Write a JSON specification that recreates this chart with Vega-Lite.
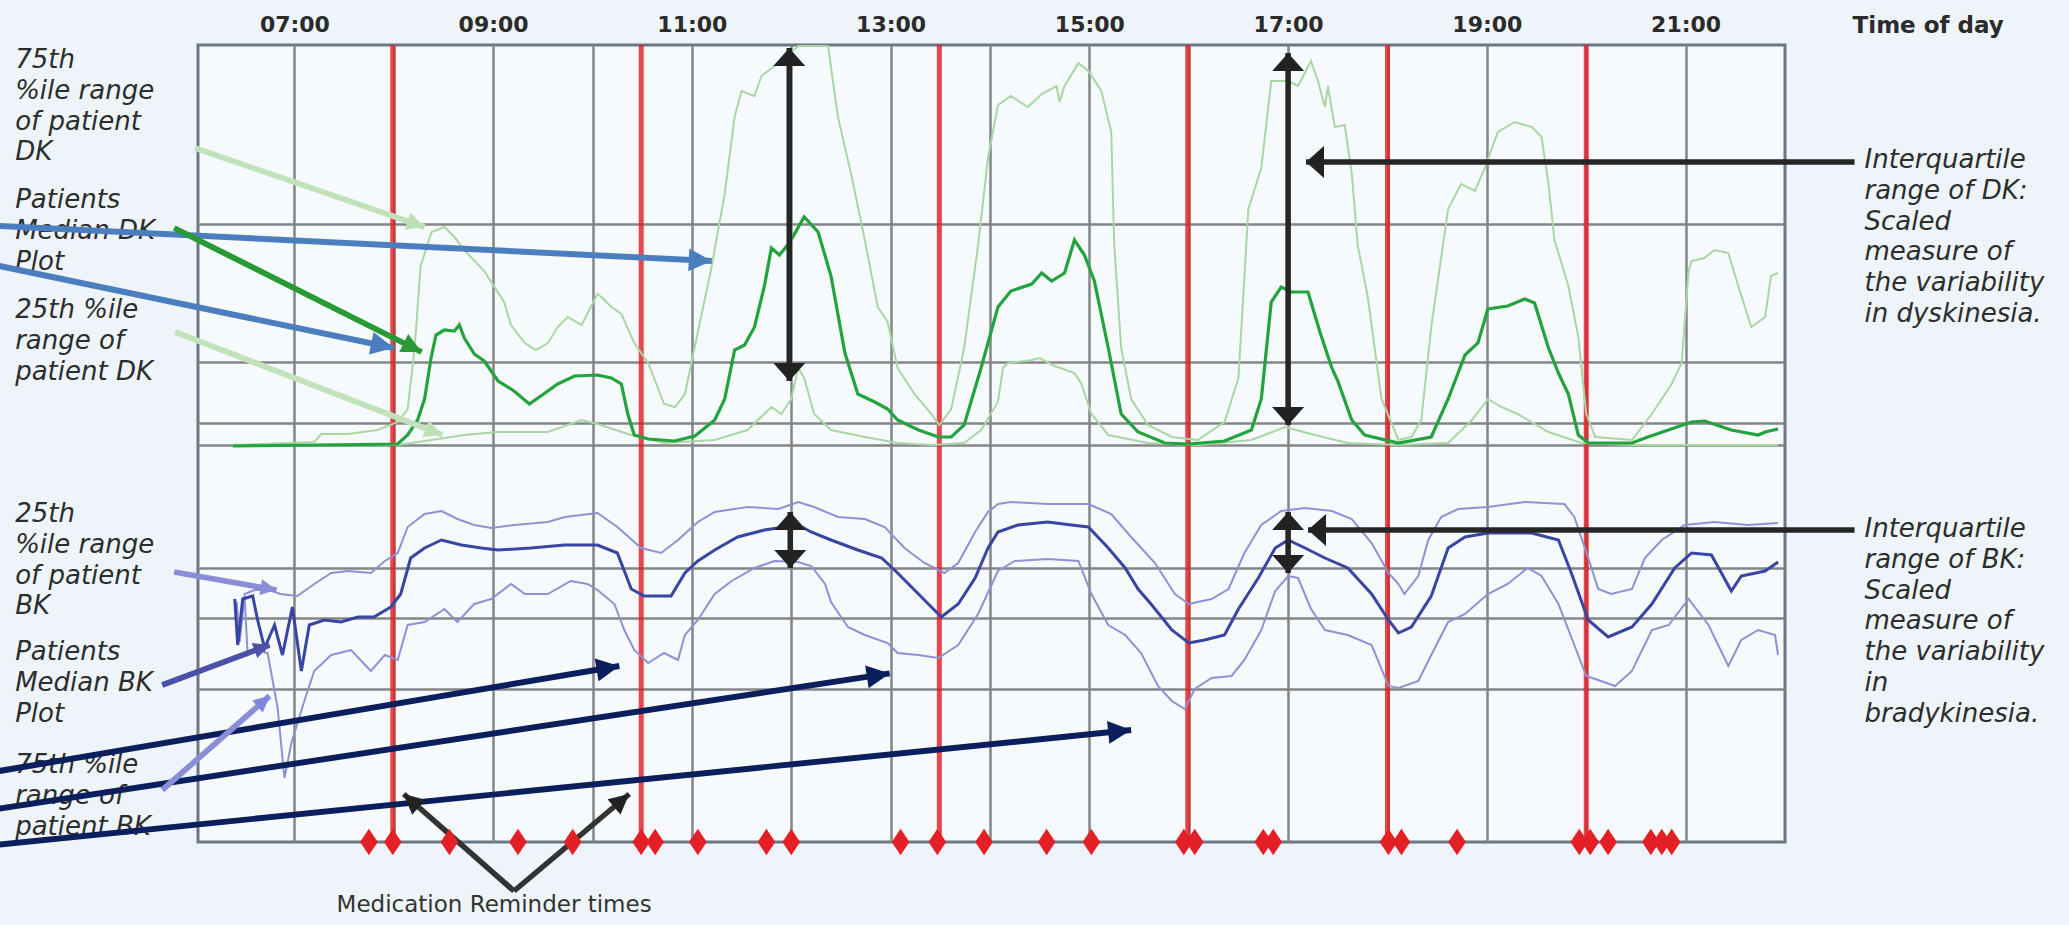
{
"$schema":"https://vega.github.io/schema/vega-lite/v6.json",
"width":1587,"height":797,
"autosize":{"type":"none"},
"padding":{"left":198,"top":45,"right":284,"bottom":83},
"background":"#eef4fa",
"config":{"view":{"fill":"#f7fafd","stroke":"#6b7784","strokeWidth":3}},
"datasets":{
"med":[{"t":7.99},{"t":10.49},{"t":13.49},{"t":15.99},{"t":18.0},{"t":20.0}],
"rem":[{"t":7.75},{"t":7.99},{"t":8.56},{"t":9.25},{"t":9.8},{"t":10.49},{"t":10.63},{"t":11.06},{"t":11.75},{"t":12.0},{"t":13.1},{"t":13.47},{"t":13.94},{"t":14.57},{"t":15.02},{"t":15.95},{"t":16.06},{"t":16.75},{"t":16.85},{"t":18.01},{"t":18.14},{"t":18.7},{"t":19.93},{"t":20.04},{"t":20.22},{"t":20.65},{"t":20.76},{"t":20.86}],
"dkmed":[{"t":6.38,"v":396},{"t":8.04,"v":398},{"t":8.14,"v":407},{"t":8.24,"v":422},{"t":8.31,"v":443},{"t":8.375,"v":484},{"t":8.425,"v":507},{"t":8.51,"v":512},{"t":8.61,"v":511},{"t":8.66,"v":517},{"t":8.71,"v":504},{"t":8.81,"v":488},{"t":8.91,"v":481},{"t":9.05,"v":461},{"t":9.21,"v":451},{"t":9.365,"v":438},{"t":9.48,"v":446},{"t":9.65,"v":458},{"t":9.82,"v":466},{"t":10.05,"v":467},{"t":10.19,"v":464},{"t":10.29,"v":458},{"t":10.355,"v":428},{"t":10.42,"v":407},{"t":10.56,"v":403},{"t":10.825,"v":401},{"t":11.03,"v":406},{"t":11.23,"v":422},{"t":11.33,"v":443},{"t":11.43,"v":492},{"t":11.53,"v":497},{"t":11.63,"v":515},{"t":11.73,"v":556},{"t":11.8,"v":594},{"t":11.88,"v":587},{"t":11.98,"v":599},{"t":12.13,"v":625},{"t":12.27,"v":610},{"t":12.4,"v":566},{"t":12.54,"v":489},{"t":12.67,"v":448},{"t":12.84,"v":440},{"t":12.97,"v":433},{"t":13.07,"v":422},{"t":13.28,"v":412},{"t":13.48,"v":405},{"t":13.61,"v":405},{"t":13.74,"v":417},{"t":13.91,"v":474},{"t":14.08,"v":535},{"t":14.21,"v":551},{"t":14.42,"v":558},{"t":14.52,"v":569},{"t":14.62,"v":561},{"t":14.75,"v":569},{"t":14.85,"v":602},{"t":14.95,"v":587},{"t":15.05,"v":561},{"t":15.19,"v":494},{"t":15.32,"v":428},{"t":15.49,"v":410},{"t":15.76,"v":399},{"t":16.0,"v":398},{"t":16.36,"v":401},{"t":16.63,"v":412},{"t":16.73,"v":443},{"t":16.83,"v":540},{"t":16.93,"v":555},{"t":17.03,"v":550},{"t":17.2,"v":550},{"t":17.32,"v":510},{"t":17.44,"v":474},{"t":17.5,"v":461},{"t":17.64,"v":422},{"t":17.77,"v":407},{"t":18.11,"v":399},{"t":18.44,"v":405},{"t":18.61,"v":443},{"t":18.78,"v":487},{"t":18.91,"v":499},{"t":19.01,"v":533},{"t":19.21,"v":536},{"t":19.38,"v":543},{"t":19.48,"v":539},{"t":19.62,"v":494},{"t":19.72,"v":469},{"t":19.82,"v":448},{"t":19.92,"v":407},{"t":20.02,"v":399},{"t":20.46,"v":399},{"t":20.62,"v":405},{"t":21.06,"v":420},{"t":21.19,"v":421},{"t":21.46,"v":412},{"t":21.73,"v":407},{"t":21.8,"v":410},{"t":21.93,"v":413}],
"dkq":[
{"s":"dk75","t":6.38,"v":397},{"s":"dk75","t":7.2,"v":400},{"s":"dk75","t":7.27,"v":408},{"s":"dk75","t":7.54,"v":408},{"s":"dk75","t":7.84,"v":412},{"s":"dk75","t":8.04,"v":420},{"s":"dk75","t":8.14,"v":433},{"s":"dk75","t":8.21,"v":494},{"s":"dk75","t":8.27,"v":576},{"s":"dk75","t":8.38,"v":610},{"s":"dk75","t":8.51,"v":615},{"s":"dk75","t":8.61,"v":605},{"s":"dk75","t":8.71,"v":592},{"s":"dk75","t":8.91,"v":571},{"s":"dk75","t":9.11,"v":540},{"s":"dk75","t":9.18,"v":517},{"s":"dk75","t":9.32,"v":499},{"s":"dk75","t":9.43,"v":492},{"s":"dk75","t":9.55,"v":499},{"s":"dk75","t":9.65,"v":515},{"s":"dk75","t":9.75,"v":525},{"s":"dk75","t":9.89,"v":517},{"s":"dk75","t":10.05,"v":548},{"s":"dk75","t":10.09,"v":545},{"s":"dk75","t":10.19,"v":535},{"s":"dk75","t":10.29,"v":528},{"s":"dk75","t":10.42,"v":499},{"s":"dk75","t":10.56,"v":479},{"s":"dk75","t":10.72,"v":438},{"s":"dk75","t":10.83,"v":435},{"s":"dk75","t":10.93,"v":448},{"s":"dk75","t":11.06,"v":510},{"s":"dk75","t":11.19,"v":571},{"s":"dk75","t":11.33,"v":648},{"s":"dk75","t":11.43,"v":725},{"s":"dk75","t":11.5,"v":751},{"s":"dk75","t":11.63,"v":746},{"s":"dk75","t":11.7,"v":766},{"s":"dk75","t":11.87,"v":779},{"s":"dk75","t":11.97,"v":787},{"s":"dk75","t":12.07,"v":796},{"s":"dk75","t":12.37,"v":796},{"s":"dk75","t":12.47,"v":725},{"s":"dk75","t":12.6,"v":669},{"s":"dk75","t":12.74,"v":602},{"s":"dk75","t":12.87,"v":535},{"s":"dk75","t":12.97,"v":520},{"s":"dk75","t":13.07,"v":474},{"s":"dk75","t":13.24,"v":448},{"s":"dk75","t":13.41,"v":428},{"s":"dk75","t":13.49,"v":417},{"s":"dk75","t":13.61,"v":433},{"s":"dk75","t":13.74,"v":494},{"s":"dk75","t":13.88,"v":597},{"s":"dk75","t":13.98,"v":684},{"s":"dk75","t":14.08,"v":737},{"s":"dk75","t":14.21,"v":746},{"s":"dk75","t":14.38,"v":735},{"s":"dk75","t":14.52,"v":748},{"s":"dk75","t":14.67,"v":756},{"s":"dk75","t":14.7,"v":740},{"s":"dk75","t":14.75,"v":756},{"s":"dk75","t":14.89,"v":779},{"s":"dk75","t":14.99,"v":771},{"s":"dk75","t":15.12,"v":751},{"s":"dk75","t":15.22,"v":710},{"s":"dk75","t":15.25,"v":597},{"s":"dk75","t":15.32,"v":494},{"s":"dk75","t":15.42,"v":443},{"s":"dk75","t":15.59,"v":417},{"s":"dk75","t":15.83,"v":405},{"s":"dk75","t":16.09,"v":402},{"s":"dk75","t":16.36,"v":420},{"s":"dk75","t":16.5,"v":464},{"s":"dk75","t":16.6,"v":633},{"s":"dk75","t":16.73,"v":674},{"s":"dk75","t":16.83,"v":761},{"s":"dk75","t":17.0,"v":761},{"s":"dk75","t":17.1,"v":756},{"s":"dk75","t":17.23,"v":781},{"s":"dk75","t":17.3,"v":761},{"s":"dk75","t":17.37,"v":735},{"s":"dk75","t":17.4,"v":756},{"s":"dk75","t":17.47,"v":715},{"s":"dk75","t":17.57,"v":717},{"s":"dk75","t":17.64,"v":669},{"s":"dk75","t":17.7,"v":597},{"s":"dk75","t":17.8,"v":546},{"s":"dk75","t":17.94,"v":443},{"s":"dk75","t":18.11,"v":402},{"s":"dk75","t":18.24,"v":405},{"s":"dk75","t":18.34,"v":422},{"s":"dk75","t":18.44,"v":515},{"s":"dk75","t":18.61,"v":633},{"s":"dk75","t":18.74,"v":658},{"s":"dk75","t":18.88,"v":651},{"s":"dk75","t":18.98,"v":674},{"s":"dk75","t":19.11,"v":710},{"s":"dk75","t":19.28,"v":720},{"s":"dk75","t":19.45,"v":715},{"s":"dk75","t":19.55,"v":705},{"s":"dk75","t":19.62,"v":658},{"s":"dk75","t":19.68,"v":602},{"s":"dk75","t":19.82,"v":556},{"s":"dk75","t":19.92,"v":505},{"s":"dk75","t":20.0,"v":428},{"s":"dk75","t":20.09,"v":405},{"s":"dk75","t":20.46,"v":402},{"s":"dk75","t":20.66,"v":428},{"s":"dk75","t":20.86,"v":458},{"s":"dk75","t":20.96,"v":479},{"s":"dk75","t":21.03,"v":571},{"s":"dk75","t":21.06,"v":581},{"s":"dk75","t":21.19,"v":584},{"s":"dk75","t":21.29,"v":592},{"s":"dk75","t":21.43,"v":589},{"s":"dk75","t":21.53,"v":556},{"s":"dk75","t":21.66,"v":515},{"s":"dk75","t":21.8,"v":525},{"s":"dk75","t":21.86,"v":566},{"s":"dk75","t":21.93,"v":569},
{"s":"dk25","t":6.38,"v":397},{"s":"dk25","t":8.04,"v":397},{"s":"dk25","t":8.38,"v":402},{"s":"dk25","t":8.71,"v":407},{"s":"dk25","t":9.05,"v":410},{"s":"dk25","t":9.55,"v":410},{"s":"dk25","t":9.89,"v":422},{"s":"dk25","t":10.05,"v":418},{"s":"dk25","t":10.39,"v":407},{"s":"dk25","t":10.72,"v":399},{"s":"dk25","t":11.23,"v":402},{"s":"dk25","t":11.56,"v":412},{"s":"dk25","t":11.8,"v":435},{"s":"dk25","t":11.9,"v":428},{"s":"dk25","t":12.0,"v":443},{"s":"dk25","t":12.07,"v":474},{"s":"dk25","t":12.13,"v":464},{"s":"dk25","t":12.23,"v":428},{"s":"dk25","t":12.4,"v":412},{"s":"dk25","t":12.74,"v":405},{"s":"dk25","t":13.07,"v":399},{"s":"dk25","t":13.41,"v":397},{"s":"dk25","t":13.74,"v":399},{"s":"dk25","t":13.91,"v":412},{"s":"dk25","t":14.08,"v":440},{"s":"dk25","t":14.13,"v":474},{"s":"dk25","t":14.18,"v":479},{"s":"dk25","t":14.42,"v":482},{"s":"dk25","t":14.5,"v":484},{"s":"dk25","t":14.65,"v":476},{"s":"dk25","t":14.85,"v":469},{"s":"dk25","t":14.92,"v":458},{"s":"dk25","t":15.02,"v":428},{"s":"dk25","t":15.19,"v":407},{"s":"dk25","t":15.59,"v":399},{"s":"dk25","t":16.09,"v":397},{"s":"dk25","t":16.63,"v":402},{"s":"dk25","t":16.97,"v":415},{"s":"dk25","t":17.27,"v":407},{"s":"dk25","t":17.6,"v":399},{"s":"dk25","t":18.11,"v":397},{"s":"dk25","t":18.61,"v":399},{"s":"dk25","t":18.85,"v":422},{"s":"dk25","t":19.01,"v":443},{"s":"dk25","t":19.15,"v":435},{"s":"dk25","t":19.31,"v":428},{"s":"dk25","t":19.62,"v":410},{"s":"dk25","t":19.95,"v":399},{"s":"dk25","t":20.46,"v":397},{"s":"dk25","t":21.93,"v":397}],
"bkmed":[{"t":6.4,"v":243},{"t":6.43,"v":197},{"t":6.48,"v":243},{"t":6.58,"v":246},{"t":6.63,"v":222},{"t":6.7,"v":194},{"t":6.8,"v":217},{"t":6.88,"v":187},{"t":6.98,"v":235},{"t":7.07,"v":171},{"t":7.15,"v":217},{"t":7.3,"v":222},{"t":7.47,"v":220},{"t":7.64,"v":225},{"t":7.8,"v":225},{"t":7.97,"v":235},{"t":8.07,"v":248},{"t":8.17,"v":284},{"t":8.31,"v":294},{"t":8.48,"v":302},{"t":8.68,"v":297},{"t":8.88,"v":294},{"t":9.05,"v":292},{"t":9.38,"v":294},{"t":9.72,"v":297},{"t":10.05,"v":297},{"t":10.25,"v":289},{"t":10.39,"v":253},{"t":10.52,"v":246},{"t":10.79,"v":246},{"t":10.93,"v":269},{"t":11.06,"v":281},{"t":11.23,"v":292},{"t":11.46,"v":305},{"t":11.73,"v":312},{"t":11.93,"v":315},{"t":12.07,"v":317},{"t":12.2,"v":310},{"t":12.4,"v":302},{"t":12.67,"v":292},{"t":12.91,"v":284},{"t":13.07,"v":269},{"t":13.28,"v":248},{"t":13.51,"v":225},{"t":13.68,"v":238},{"t":13.85,"v":264},{"t":13.98,"v":294},{"t":14.08,"v":310},{"t":14.28,"v":317},{"t":14.58,"v":320},{"t":14.82,"v":317},{"t":14.99,"v":315},{"t":15.19,"v":294},{"t":15.36,"v":274},{"t":15.49,"v":253},{"t":15.62,"v":238},{"t":15.83,"v":212},{"t":16.0,"v":199},{"t":16.16,"v":202},{"t":16.36,"v":207},{"t":16.5,"v":233},{"t":16.7,"v":264},{"t":16.87,"v":294},{"t":17.0,"v":302},{"t":17.17,"v":294},{"t":17.37,"v":284},{"t":17.6,"v":274},{"t":17.84,"v":248},{"t":18.01,"v":222},{"t":18.11,"v":209},{"t":18.24,"v":215},{"t":18.44,"v":246},{"t":18.61,"v":294},{"t":18.78,"v":305},{"t":19.01,"v":309},{"t":19.45,"v":309},{"t":19.72,"v":302},{"t":19.85,"v":269},{"t":20.02,"v":222},{"t":20.22,"v":205},{"t":20.46,"v":215},{"t":20.66,"v":238},{"t":20.89,"v":274},{"t":21.06,"v":289},{"t":21.26,"v":287},{"t":21.36,"v":269},{"t":21.46,"v":251},{"t":21.56,"v":266},{"t":21.8,"v":271},{"t":21.93,"v":280}],
"bkq":[
{"s":"bk25","t":6.42,"v":240},{"s":"bk25","t":6.45,"v":200},{"s":"bk25","t":6.5,"v":248},{"s":"bk25","t":6.6,"v":252},{"s":"bk25","t":6.75,"v":252},{"s":"bk25","t":6.86,"v":248},{"s":"bk25","t":7.03,"v":246},{"s":"bk25","t":7.2,"v":258},{"s":"bk25","t":7.37,"v":269},{"s":"bk25","t":7.54,"v":271},{"s":"bk25","t":7.77,"v":269},{"s":"bk25","t":7.91,"v":281},{"s":"bk25","t":8.04,"v":289},{"s":"bk25","t":8.14,"v":315},{"s":"bk25","t":8.31,"v":328},{"s":"bk25","t":8.48,"v":331},{"s":"bk25","t":8.64,"v":323},{"s":"bk25","t":8.81,"v":317},{"s":"bk25","t":8.98,"v":314},{"s":"bk25","t":9.21,"v":317},{"s":"bk25","t":9.55,"v":320},{"s":"bk25","t":9.72,"v":325},{"s":"bk25","t":10.05,"v":329},{"s":"bk25","t":10.25,"v":315},{"s":"bk25","t":10.49,"v":294},{"s":"bk25","t":10.69,"v":289},{"s":"bk25","t":10.86,"v":302},{"s":"bk25","t":11.06,"v":320},{"s":"bk25","t":11.23,"v":330},{"s":"bk25","t":11.56,"v":335},{"s":"bk25","t":11.87,"v":333},{"s":"bk25","t":12.07,"v":340},{"s":"bk25","t":12.23,"v":335},{"s":"bk25","t":12.47,"v":325},{"s":"bk25","t":12.74,"v":323},{"s":"bk25","t":12.94,"v":315},{"s":"bk25","t":13.14,"v":294},{"s":"bk25","t":13.34,"v":279},{"s":"bk25","t":13.54,"v":269},{"s":"bk25","t":13.68,"v":279},{"s":"bk25","t":13.85,"v":310},{"s":"bk25","t":13.98,"v":330},{"s":"bk25","t":14.08,"v":338},{"s":"bk25","t":14.21,"v":340},{"s":"bk25","t":14.58,"v":338},{"s":"bk25","t":14.99,"v":338},{"s":"bk25","t":15.22,"v":328},{"s":"bk25","t":15.42,"v":305},{"s":"bk25","t":15.66,"v":279},{"s":"bk25","t":15.86,"v":248},{"s":"bk25","t":16.0,"v":238},{"s":"bk25","t":16.23,"v":243},{"s":"bk25","t":16.4,"v":253},{"s":"bk25","t":16.56,"v":289},{"s":"bk25","t":16.73,"v":317},{"s":"bk25","t":16.93,"v":331},{"s":"bk25","t":17.17,"v":334},{"s":"bk25","t":17.44,"v":331},{"s":"bk25","t":17.64,"v":323},{"s":"bk25","t":17.84,"v":299},{"s":"bk25","t":18.01,"v":269},{"s":"bk25","t":18.11,"v":258},{"s":"bk25","t":18.17,"v":248},{"s":"bk25","t":18.31,"v":266},{"s":"bk25","t":18.41,"v":302},{"s":"bk25","t":18.54,"v":325},{"s":"bk25","t":18.71,"v":333},{"s":"bk25","t":19.01,"v":335},{"s":"bk25","t":19.38,"v":340},{"s":"bk25","t":19.78,"v":338},{"s":"bk25","t":19.88,"v":325},{"s":"bk25","t":20.02,"v":284},{"s":"bk25","t":20.12,"v":253},{"s":"bk25","t":20.25,"v":248},{"s":"bk25","t":20.46,"v":253},{"s":"bk25","t":20.59,"v":284},{"s":"bk25","t":20.76,"v":302},{"s":"bk25","t":20.99,"v":317},{"s":"bk25","t":21.29,"v":320},{"s":"bk25","t":21.63,"v":317},{"s":"bk25","t":21.93,"v":319},
{"s":"bk75","t":6.5,"v":243},{"s":"bk75","t":6.53,"v":187},{"s":"bk75","t":6.6,"v":192},{"s":"bk75","t":6.73,"v":189},{"s":"bk75","t":6.83,"v":135},{"s":"bk75","t":6.9,"v":64},{"s":"bk75","t":6.97,"v":99},{"s":"bk75","t":7.1,"v":141},{"s":"bk75","t":7.2,"v":171},{"s":"bk75","t":7.37,"v":187},{"s":"bk75","t":7.57,"v":192},{"s":"bk75","t":7.77,"v":171},{"s":"bk75","t":7.91,"v":187},{"s":"bk75","t":8.04,"v":182},{"s":"bk75","t":8.14,"v":217},{"s":"bk75","t":8.31,"v":220},{"s":"bk75","t":8.51,"v":233},{"s":"bk75","t":8.64,"v":220},{"s":"bk75","t":8.81,"v":238},{"s":"bk75","t":8.98,"v":243},{"s":"bk75","t":9.18,"v":258},{"s":"bk75","t":9.32,"v":248},{"s":"bk75","t":9.55,"v":248},{"s":"bk75","t":9.78,"v":261},{"s":"bk75","t":9.95,"v":258},{"s":"bk75","t":10.05,"v":252},{"s":"bk75","t":10.22,"v":238},{"s":"bk75","t":10.32,"v":212},{"s":"bk75","t":10.42,"v":192},{"s":"bk75","t":10.56,"v":179},{"s":"bk75","t":10.72,"v":189},{"s":"bk75","t":10.86,"v":182},{"s":"bk75","t":10.93,"v":207},{"s":"bk75","t":11.06,"v":222},{"s":"bk75","t":11.23,"v":248},{"s":"bk75","t":11.4,"v":261},{"s":"bk75","t":11.63,"v":274},{"s":"bk75","t":11.83,"v":281},{"s":"bk75","t":12.07,"v":280},{"s":"bk75","t":12.2,"v":276},{"s":"bk75","t":12.34,"v":258},{"s":"bk75","t":12.4,"v":240},{"s":"bk75","t":12.57,"v":215},{"s":"bk75","t":12.74,"v":207},{"s":"bk75","t":12.97,"v":199},{"s":"bk75","t":13.07,"v":189},{"s":"bk75","t":13.28,"v":187},{"s":"bk75","t":13.48,"v":184},{"s":"bk75","t":13.68,"v":197},{"s":"bk75","t":13.88,"v":228},{"s":"bk75","t":14.08,"v":271},{"s":"bk75","t":14.25,"v":281},{"s":"bk75","t":14.58,"v":283},{"s":"bk75","t":14.89,"v":281},{"s":"bk75","t":15.02,"v":248},{"s":"bk75","t":15.19,"v":217},{"s":"bk75","t":15.36,"v":207},{"s":"bk75","t":15.52,"v":189},{"s":"bk75","t":15.69,"v":156},{"s":"bk75","t":15.83,"v":141},{"s":"bk75","t":15.96,"v":133},{"s":"bk75","t":16.06,"v":153},{"s":"bk75","t":16.23,"v":164},{"s":"bk75","t":16.43,"v":166},{"s":"bk75","t":16.56,"v":182},{"s":"bk75","t":16.73,"v":212},{"s":"bk75","t":16.87,"v":251},{"s":"bk75","t":17.0,"v":266},{"s":"bk75","t":17.1,"v":264},{"s":"bk75","t":17.23,"v":233},{"s":"bk75","t":17.37,"v":212},{"s":"bk75","t":17.6,"v":207},{"s":"bk75","t":17.84,"v":197},{"s":"bk75","t":18.01,"v":156},{"s":"bk75","t":18.11,"v":154},{"s":"bk75","t":18.31,"v":161},{"s":"bk75","t":18.44,"v":187},{"s":"bk75","t":18.61,"v":220},{"s":"bk75","t":18.78,"v":228},{"s":"bk75","t":19.01,"v":248},{"s":"bk75","t":19.21,"v":258},{"s":"bk75","t":19.41,"v":274},{"s":"bk75","t":19.55,"v":266},{"s":"bk75","t":19.72,"v":238},{"s":"bk75","t":19.88,"v":197},{"s":"bk75","t":20.0,"v":166},{"s":"bk75","t":20.12,"v":162},{"s":"bk75","t":20.29,"v":156},{"s":"bk75","t":20.46,"v":171},{"s":"bk75","t":20.66,"v":212},{"s":"bk75","t":20.83,"v":217},{"s":"bk75","t":21.03,"v":243},{"s":"bk75","t":21.23,"v":217},{"s":"bk75","t":21.43,"v":176},{"s":"bk75","t":21.56,"v":202},{"s":"bk75","t":21.73,"v":212},{"s":"bk75","t":21.9,"v":207},{"s":"bk75","t":21.93,"v":187}],
"labels":[
{"g":"side","txt":"75th\n%ile range\nof patient\nDK","t":4.19,"v":774},
{"g":"side","txt":"Patients\nMedian DK\nPlot","t":4.19,"v":634},
{"g":"side","txt":"25th %ile\nrange of\npatient DK","t":4.19,"v":524},
{"g":"side","txt":"25th\n%ile range\nof patient\nBK","t":4.19,"v":320},
{"g":"side","txt":"Patients\nMedian BK\nPlot","t":4.19,"v":182},
{"g":"side","txt":"75th %ile\nrange of\npatient BK","t":4.19,"v":69},
{"g":"side","txt":"Interquartile\nrange of DK:\nScaled\nmeasure of\nthe variability\nin dyskinesia.","t":22.8,"v":674},
{"g":"side","txt":"Interquartile\nrange of BK:\nScaled\nmeasure of\nthe variability\nin\nbradykinesia.","t":22.8,"v":305},
{"g":"title","txt":"Time of day","t":22.68,"v":809},
{"g":"med","txt":"Medication Reminder times","t":9.01,"v":-70}],
"shafts":[
{"g":"blue","t":4.03,"v":616,"t2":11.2,"v2":581},
{"g":"blue","t":4.03,"v":576,"t2":8.0,"v2":494},
{"g":"navy","t":4.03,"v":71,"t2":10.27,"v2":176},
{"g":"navy","t":4.03,"v":33.5,"t2":12.99,"v2":168.6},
{"g":"navy","t":4.03,"v":-2.6,"t2":15.42,"v2":112},
{"g":"green","t":5.79,"v":614,"t2":8.28,"v2":490},
{"g":"lgreen","t":6.0,"v":694,"t2":8.31,"v2":615},
{"g":"lgreen","t":5.8,"v":510,"t2":8.49,"v2":407},
{"g":"purple","t":5.79,"v":270,"t2":6.82,"v2":252},
{"g":"purple","t":5.67,"v":52,"t2":6.75,"v2":146},
{"g":"dpurple","t":5.67,"v":157,"t2":6.75,"v2":197},
{"g":"black","t":11.98,"v":461,"t2":11.98,"v2":794},
{"g":"black","t":17.0,"v":417,"t2":17.0,"v2":789},
{"g":"black","t":11.99,"v":274,"t2":11.99,"v2":330},
{"g":"black","t":17.0,"v":269,"t2":17.0,"v2":330},
{"g":"black","t":22.7,"v":680,"t2":17.18,"v2":680},
{"g":"black","t":22.7,"v":312,"t2":17.2,"v2":312},
{"g":"thin","t":9.21,"v":-49,"t2":8.1,"v2":48},
{"g":"thin","t":9.21,"v":-49,"t2":10.37,"v2":48}],
"heads":[
{"id":"A1","t":11.2,"v":581},{"id":"A2","t":8.0,"v":494},
{"id":"N1","t":10.27,"v":176},{"id":"N2","t":12.99,"v":168.6},{"id":"N3","t":15.42,"v":112},
{"id":"G1","t":8.31,"v":615},{"id":"G2","t":8.28,"v":490},{"id":"G3","t":8.49,"v":407},
{"id":"P1","t":6.82,"v":252},{"id":"P2","t":6.75,"v":197},{"id":"P3","t":6.75,"v":146},
{"id":"M1","t":8.1,"v":48},{"id":"M2","t":10.37,"v":48},
{"id":"UP","t":11.98,"v":794},{"id":"UP","t":17.0,"v":789},{"id":"UP","t":11.99,"v":330},{"id":"UP","t":17.0,"v":330},
{"id":"DN","t":11.98,"v":461},{"id":"DN","t":17.0,"v":417},{"id":"DN","t":11.99,"v":274},{"id":"DN","t":17.0,"v":269},
{"id":"LF","t":17.18,"v":680},{"id":"LF","t":17.2,"v":312}]
},
"layer":[
{"data":{"name":"med"},"mark":{"type":"rule","color":"#e31e24","strokeWidth":5,"opacity":0.82},
 "encoding":{"x":{"field":"t","type":"quantitative","scale":{"domain":[6.03,22],"nice":false,"zero":false},"title":null}}},
{"data":{"name":"dkq"},"mark":{"type":"line","color":"#a9d7a3","strokeWidth":2},
 "encoding":{"x":{"field":"t","type":"quantitative","scale":{"domain":[6.03,22],"nice":false,"zero":false},"title":null},
  "y":{"field":"v","type":"quantitative","scale":{"domain":[0,797],"nice":false,"zero":false},"title":null},
  "detail":{"field":"s","type":"nominal"}}},
{"data":{"name":"bkq"},"mark":{"type":"line","color":"#8e91d4","strokeWidth":2},
 "encoding":{"x":{"field":"t","type":"quantitative","scale":{"domain":[6.03,22],"nice":false,"zero":false},"title":null},
  "y":{"field":"v","type":"quantitative","scale":{"domain":[0,797],"nice":false,"zero":false},"title":null},
  "detail":{"field":"s","type":"nominal"}}},
{"data":{"name":"dkmed"},"mark":{"type":"line","color":"#22a33d","strokeWidth":3.2},
 "encoding":{"x":{"field":"t","type":"quantitative","scale":{"domain":[6.03,22],"nice":false,"zero":false},"title":null,
   "axis":{"orient":"top","values":[7,8,9,10,11,12,13,14,15,16,17,18,19,20,21],"labelExpr":"datum.value % 2 == 1 ? (datum.value < 10 ? '0' : '') + datum.value + ':00' : ''","grid":true,"gridColor":"#858585","gridWidth":2.5,"ticks":false,"domain":false,"labelFont":"DejaVu Sans","labelFontWeight":"bold","labelFontSize":22,"labelColor":"#2b2b2b","labelPadding":9,"labelOverlap":false,"labelFlush":false,"title":null}},
  "y":{"field":"v","type":"quantitative","scale":{"domain":[0,797],"nice":false,"zero":false},"title":null,
   "axis":{"values":[618,480,419,397,274,224,153],"grid":true,"gridColor":"#858585","gridWidth":2.5,"labels":false,"ticks":false,"domain":false,"title":null}}}},
{"data":{"name":"bkmed"},"mark":{"type":"line","color":"#3845a3","strokeWidth":3},
 "encoding":{"x":{"field":"t","type":"quantitative","scale":{"domain":[6.03,22],"nice":false,"zero":false},"title":null},
  "y":{"field":"v","type":"quantitative","scale":{"domain":[0,797],"nice":false,"zero":false},"title":null}}},
{"data":{"name":"labels"},"transform":[{"filter":"datum.g == 'side'"}],
 "mark":{"type":"text","align":"left","baseline":"alphabetic","font":"DejaVu Sans","fontStyle":"italic","fontSize":26,"lineHeight":30.8,"lineBreak":"\n","color":"#2d2d2d"},
 "encoding":{"x":{"field":"t","type":"quantitative","scale":{"domain":[6.03,22],"nice":false,"zero":false},"title":null},
  "y":{"field":"v","type":"quantitative","scale":{"domain":[0,797],"nice":false,"zero":false},"title":null},
  "text":{"field":"txt","type":"nominal"}}},
{"data":{"name":"labels"},"transform":[{"filter":"datum.g == 'title'"}],
 "mark":{"type":"text","align":"left","baseline":"alphabetic","font":"DejaVu Sans","fontWeight":"bold","fontSize":23,"color":"#2b2b2b"},
 "encoding":{"x":{"field":"t","type":"quantitative","scale":{"domain":[6.03,22],"nice":false,"zero":false},"title":null},
  "y":{"field":"v","type":"quantitative","scale":{"domain":[0,797],"nice":false,"zero":false},"title":null},
  "text":{"field":"txt","type":"nominal"}}},
{"data":{"name":"labels"},"transform":[{"filter":"datum.g == 'med'"}],
 "mark":{"type":"text","align":"center","baseline":"alphabetic","font":"DejaVu Sans","fontSize":23,"color":"#333333"},
 "encoding":{"x":{"field":"t","type":"quantitative","scale":{"domain":[6.03,22],"nice":false,"zero":false},"title":null},
  "y":{"field":"v","type":"quantitative","scale":{"domain":[0,797],"nice":false,"zero":false},"title":null},
  "text":{"field":"txt","type":"nominal"}}},
{"data":{"name":"shafts"},"mark":{"type":"rule"},
 "encoding":{"x":{"field":"t","type":"quantitative","scale":{"domain":[6.03,22],"nice":false,"zero":false},"title":null},
  "y":{"field":"v","type":"quantitative","scale":{"domain":[0,797],"nice":false,"zero":false},"title":null},
  "x2":{"field":"t2"},"y2":{"field":"v2"},
  "color":{"field":"g","type":"nominal","scale":{"domain":["blue","navy","green","lgreen","purple","dpurple","black","thin"],"range":["#4a7ebf","#0b1f5c","#2a9a35","#c2e2bb","#8a8ed8","#4b51a8","#262626","#333333"]},"legend":null},
  "strokeWidth":{"field":"g","type":"ordinal","scale":{"domain":["blue","navy","green","lgreen","purple","dpurple","black","thin"],"range":[6,5.5,2.5,2,2,2.5,3.5,2]},"legend":null}}},
{"data":{"name":"heads"},"transform":[{"filter":"datum.id == 'A1'"}],"mark":{"type":"point","shape":"M0,0L-2,-1L-2,1Z","filled":true,"opacity":1,"color":"#4a7ebf","size":529,"angle":2.8},
 "encoding":{"x":{"field":"t","type":"quantitative","scale":{"domain":[6.03,22],"nice":false,"zero":false},"title":null},"y":{"field":"v","type":"quantitative","scale":{"domain":[0,797],"nice":false,"zero":false},"title":null}}},
{"data":{"name":"heads"},"transform":[{"filter":"datum.id == 'A2'"}],"mark":{"type":"point","shape":"M0,0L-2,-1L-2,1Z","filled":true,"opacity":1,"color":"#4a7ebf","size":529,"angle":11.7},
 "encoding":{"x":{"field":"t","type":"quantitative","scale":{"domain":[6.03,22],"nice":false,"zero":false},"title":null},"y":{"field":"v","type":"quantitative","scale":{"domain":[0,797],"nice":false,"zero":false},"title":null}}},
{"data":{"name":"heads"},"transform":[{"filter":"datum.id == 'N1'"}],"mark":{"type":"point","shape":"M0,0L-2,-1L-2,1Z","filled":true,"opacity":1,"color":"#0b1f5c","size":529,"angle":-9.6},
 "encoding":{"x":{"field":"t","type":"quantitative","scale":{"domain":[6.03,22],"nice":false,"zero":false},"title":null},"y":{"field":"v","type":"quantitative","scale":{"domain":[0,797],"nice":false,"zero":false},"title":null}}},
{"data":{"name":"heads"},"transform":[{"filter":"datum.id == 'N2'"}],"mark":{"type":"point","shape":"M0,0L-2,-1L-2,1Z","filled":true,"opacity":1,"color":"#0b1f5c","size":529,"angle":-8.6},
 "encoding":{"x":{"field":"t","type":"quantitative","scale":{"domain":[6.03,22],"nice":false,"zero":false},"title":null},"y":{"field":"v","type":"quantitative","scale":{"domain":[0,797],"nice":false,"zero":false},"title":null}}},
{"data":{"name":"heads"},"transform":[{"filter":"datum.id == 'N3'"}],"mark":{"type":"point","shape":"M0,0L-2,-1L-2,1Z","filled":true,"opacity":1,"color":"#0b1f5c","size":529,"angle":-5.8},
 "encoding":{"x":{"field":"t","type":"quantitative","scale":{"domain":[6.03,22],"nice":false,"zero":false},"title":null},"y":{"field":"v","type":"quantitative","scale":{"domain":[0,797],"nice":false,"zero":false},"title":null}}},
{"data":{"name":"heads"},"transform":[{"filter":"datum.id == 'G1'"}],"mark":{"type":"point","shape":"M0,0L-2,-1L-2,1Z","filled":true,"opacity":1,"color":"#bfe0b7","size":324,"angle":19},
 "encoding":{"x":{"field":"t","type":"quantitative","scale":{"domain":[6.03,22],"nice":false,"zero":false},"title":null},"y":{"field":"v","type":"quantitative","scale":{"domain":[0,797],"nice":false,"zero":false},"title":null}}},
{"data":{"name":"heads"},"transform":[{"filter":"datum.id == 'G2'"}],"mark":{"type":"point","shape":"M0,0L-2,-1L-2,1Z","filled":true,"opacity":1,"color":"#2a9a35","size":400,"angle":26.6},
 "encoding":{"x":{"field":"t","type":"quantitative","scale":{"domain":[6.03,22],"nice":false,"zero":false},"title":null},"y":{"field":"v","type":"quantitative","scale":{"domain":[0,797],"nice":false,"zero":false},"title":null}}},
{"data":{"name":"heads"},"transform":[{"filter":"datum.id == 'G3'"}],"mark":{"type":"point","shape":"M0,0L-2,-1L-2,1Z","filled":true,"opacity":1,"color":"#bfe0b7","size":324,"angle":21},
 "encoding":{"x":{"field":"t","type":"quantitative","scale":{"domain":[6.03,22],"nice":false,"zero":false},"title":null},"y":{"field":"v","type":"quantitative","scale":{"domain":[0,797],"nice":false,"zero":false},"title":null}}},
{"data":{"name":"heads"},"transform":[{"filter":"datum.id == 'P1'"}],"mark":{"type":"point","shape":"M0,0L-2,-1L-2,1Z","filled":true,"opacity":1,"color":"#8a8ed8","size":256,"angle":10},
 "encoding":{"x":{"field":"t","type":"quantitative","scale":{"domain":[6.03,22],"nice":false,"zero":false},"title":null},"y":{"field":"v","type":"quantitative","scale":{"domain":[0,797],"nice":false,"zero":false},"title":null}}},
{"data":{"name":"heads"},"transform":[{"filter":"datum.id == 'P2'"}],"mark":{"type":"point","shape":"M0,0L-2,-1L-2,1Z","filled":true,"opacity":1,"color":"#4b51a8","size":256,"angle":-20.4},
 "encoding":{"x":{"field":"t","type":"quantitative","scale":{"domain":[6.03,22],"nice":false,"zero":false},"title":null},"y":{"field":"v","type":"quantitative","scale":{"domain":[0,797],"nice":false,"zero":false},"title":null}}},
{"data":{"name":"heads"},"transform":[{"filter":"datum.id == 'P3'"}],"mark":{"type":"point","shape":"M0,0L-2,-1L-2,1Z","filled":true,"opacity":1,"color":"#7f84e0","size":256,"angle":-41.2},
 "encoding":{"x":{"field":"t","type":"quantitative","scale":{"domain":[6.03,22],"nice":false,"zero":false},"title":null},"y":{"field":"v","type":"quantitative","scale":{"domain":[0,797],"nice":false,"zero":false},"title":null}}},
{"data":{"name":"heads"},"transform":[{"filter":"datum.id == 'M1'"}],"mark":{"type":"point","shape":"M0,0L-2,-1L-2,1Z","filled":true,"opacity":1,"color":"#222222","size":400,"angle":-138.7},
 "encoding":{"x":{"field":"t","type":"quantitative","scale":{"domain":[6.03,22],"nice":false,"zero":false},"title":null},"y":{"field":"v","type":"quantitative","scale":{"domain":[0,797],"nice":false,"zero":false},"title":null}}},
{"data":{"name":"heads"},"transform":[{"filter":"datum.id == 'M2'"}],"mark":{"type":"point","shape":"M0,0L-2,-1L-2,1Z","filled":true,"opacity":1,"color":"#222222","size":400,"angle":-40.1},
 "encoding":{"x":{"field":"t","type":"quantitative","scale":{"domain":[6.03,22],"nice":false,"zero":false},"title":null},"y":{"field":"v","type":"quantitative","scale":{"domain":[0,797],"nice":false,"zero":false},"title":null}}},
{"data":{"name":"heads"},"transform":[{"filter":"datum.id == 'UP'"}],"mark":{"type":"point","shape":"M0,0L-1.8,-1.6L-1.8,1.6Z","filled":true,"opacity":1,"color":"#222222","size":400,"angle":-90},
 "encoding":{"x":{"field":"t","type":"quantitative","scale":{"domain":[6.03,22],"nice":false,"zero":false},"title":null},"y":{"field":"v","type":"quantitative","scale":{"domain":[0,797],"nice":false,"zero":false},"title":null}}},
{"data":{"name":"heads"},"transform":[{"filter":"datum.id == 'DN'"}],"mark":{"type":"point","shape":"M0,0L-1.8,-1.6L-1.8,1.6Z","filled":true,"opacity":1,"color":"#222222","size":400,"angle":90},
 "encoding":{"x":{"field":"t","type":"quantitative","scale":{"domain":[6.03,22],"nice":false,"zero":false},"title":null},"y":{"field":"v","type":"quantitative","scale":{"domain":[0,797],"nice":false,"zero":false},"title":null}}},
{"data":{"name":"heads"},"transform":[{"filter":"datum.id == 'LF'"}],"mark":{"type":"point","shape":"M0,0L-1.8,-1.6L-1.8,1.6Z","filled":true,"opacity":1,"color":"#222222","size":400,"angle":180},
 "encoding":{"x":{"field":"t","type":"quantitative","scale":{"domain":[6.03,22],"nice":false,"zero":false},"title":null},"y":{"field":"v","type":"quantitative","scale":{"domain":[0,797],"nice":false,"zero":false},"title":null}}},
{"mark":{"type":"rule","color":"#5d6b7a","strokeWidth":4},
 "encoding":{"y":{"datum":797,"type":"quantitative","scale":{"domain":[0,797],"nice":false,"zero":false},"title":null}}},
{"mark":{"type":"rule","color":"#2e75b6","strokeWidth":3},
 "encoding":{"y":{"datum":0,"type":"quantitative","scale":{"domain":[0,797],"nice":false,"zero":false},"title":null}}},
{"mark":{"type":"rule","color":"#3c7dbf","strokeWidth":2.5},
 "encoding":{"x":{"datum":6.03,"type":"quantitative","scale":{"domain":[6.03,22],"nice":false,"zero":false},"title":null}}},
{"data":{"name":"rem"},"mark":{"type":"point","shape":"M0,-1.2L0.8,0L0,1.2L-0.8,0Z","filled":true,"opacity":1,"color":"#e41f26","size":484},
 "encoding":{"x":{"field":"t","type":"quantitative","scale":{"domain":[6.03,22],"nice":false,"zero":false},"title":null},
  "y":{"datum":0,"type":"quantitative","scale":{"domain":[0,797],"nice":false,"zero":false},"title":null}}}
]
}
